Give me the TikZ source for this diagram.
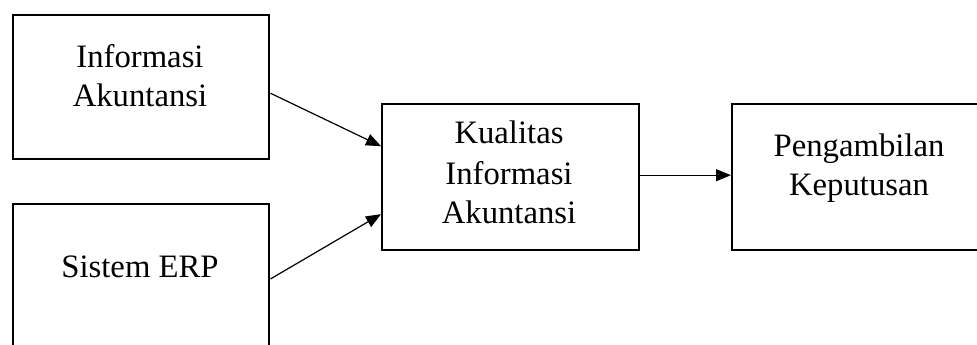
\documentclass[tikz,border=0pt]{standalone}
\usepackage{fontspec}
\setmainfont{Liberation Serif}
\usetikzlibrary{arrows.meta}
\begin{document}
\begin{tikzpicture}[x=1pt,y=-1pt,
  box/.style={draw,line width=2.4pt,rectangle,inner sep=0pt},
  lbl/.style={font=\fontsize{32.7}{39.5}\selectfont,align=center,anchor=base,inner sep=0pt},
  conn/.style={line width=1.2pt,-{Triangle[length=15pt,width=12pt]}}]
\useasboundingbox (0,0) rectangle (977,345);
\clip (0,0) rectangle (977,345);
\fill[white] (0,0) rectangle (977,345);
% boxes
\node[box,minimum width=256pt,minimum height=144pt,anchor=north west] (b1) at (12,14) {};
\node[box,minimum width=256pt,minimum height=200pt,anchor=north west] (b2) at (12,203) {};
\node[box,minimum width=257pt,minimum height=146pt,anchor=north west] (b3) at (381,103) {};
\node[box,minimum width=280pt,minimum height=146pt,anchor=north west] (b4) at (731,103) {};
% texts
\node[lbl] (t1a) at (140,67) {Informasi};
\node[lbl] (t1b) at (140,106) {Akuntansi};
\node[lbl] (t2) at (140,277) {Sistem ERP};
\node[lbl] (t3a) at (509,143) {Kualitas};
\node[lbl] (t3b) at (509,184) {Informasi};
\node[lbl] (t3c) at (509,223) {Akuntansi};
\node[lbl] (t4a) at (859,156) {Pengambilan};
\node[lbl] (t4b) at (859,195) {Keputusan};
% connectors
\draw[conn] ([yshift=-6pt]b1.east) -- ([yshift=31pt]b3.west);
\draw[conn] ([yshift=-76pt]b2.north east) -- ([yshift=-37pt]b3.west);
\draw[conn] ([yshift=2pt]b3.east) -- ([yshift=2pt]b4.west);
\end{tikzpicture}
\end{document}
